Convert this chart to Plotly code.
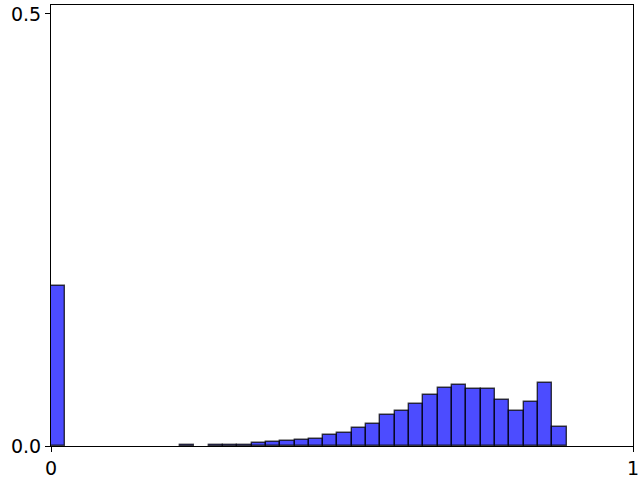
import numpy as np
import plotly.graph_objects as go

# Histogram: 36 equal bins spanning 0 .. 0.886, heights are fractions
bin_start = 0.0
bin_end = 0.886
n_bins = 36
heights = [0.185, 0, 0, 0, 0, 0, 0, 0, 0, 0.001, 0, 0.001, 0.001, 0.001,
           0.0035, 0.005, 0.006, 0.007, 0.008, 0.0124, 0.015, 0.0205, 0.0255,
           0.0359, 0.0401, 0.0486, 0.059, 0.0668, 0.0706, 0.0656, 0.0656,
           0.0529, 0.0401, 0.0506, 0.0726, 0.0216]

x_ticks = [0, 1]
x_tick_labels = ["0", "1"]
y_ticks = [0, 0.5]
y_tick_labels = ["0.0", "0.5"]

edges = np.linspace(bin_start, bin_end, n_bins + 1)
centers = (edges[:-1] + edges[1:]) / 2
width = edges[1] - edges[0]
plot_heights = [h if h > 0 else None for h in heights]

fig = go.Figure(go.Bar(
    x=centers, y=plot_heights, width=width,
    marker=dict(color="rgba(0,0,255,0.7)",
                line=dict(color="rgba(0,0,0,0.75)", width=1.4)),
))

fig.update_layout(
    width=640, height=480,
    margin=dict(l=51, r=7, t=5, b=34, autoexpand=False),
    plot_bgcolor="white", paper_bgcolor="white",
    showlegend=False, bargap=0,
    font=dict(family="DejaVu Sans", size=19, color="black"),
)
fig.update_xaxes(range=[0, 1], tickvals=x_ticks, ticktext=x_tick_labels,
                 showgrid=False, zeroline=False, showline=True, mirror=True,
                 linecolor="black", linewidth=1, ticks="outside", ticklen=5,
                 tickcolor="black", automargin=False)
fig.update_yaxes(range=[0, 0.5104], tickvals=y_ticks, ticktext=y_tick_labels,
                 showgrid=False, zeroline=False, showline=True, mirror=True,
                 linecolor="black", linewidth=1, ticks="outside", ticklen=5,
                 tickcolor="black", automargin=False)

fig.write_html("out.html",
               config={"displayModeBar": False},
               post_script="document.body.style.margin='0';document.body.style.overflow='hidden';")
